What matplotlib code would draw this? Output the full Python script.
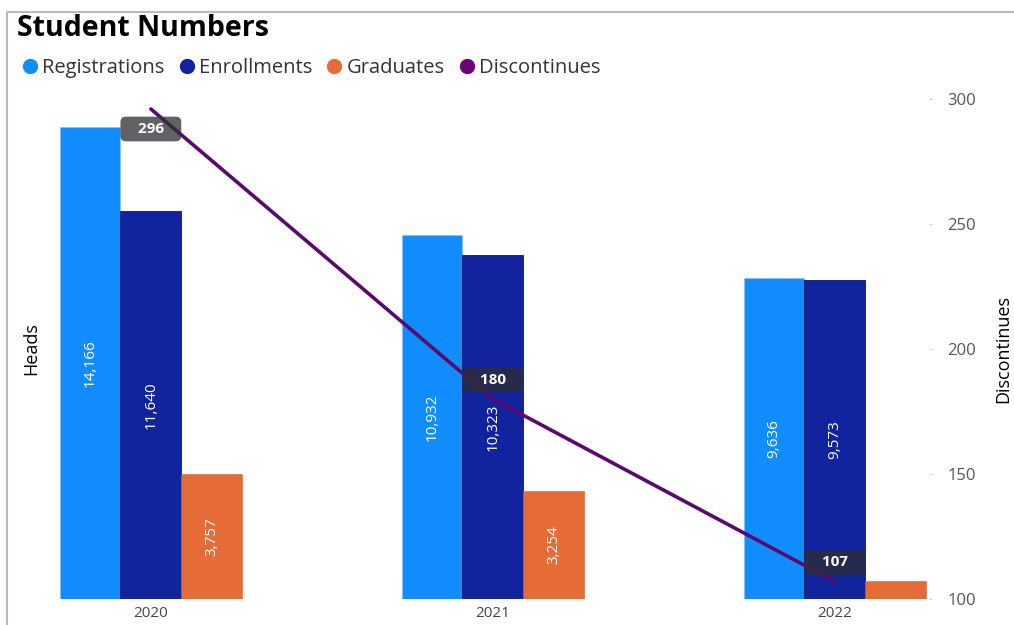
import matplotlib.pyplot as plt
import numpy as np
from matplotlib.lines import Line2D
from matplotlib.patches import Rectangle

years = ['2020', '2021', '2022']
registrations = [14166, 10932, 9636]
enrollments = [11640, 10323, 9573]
graduates = [3757, 3254, 540]
discontinues = [296, 180, 107]

c_reg = '#118DFF'
c_enr = '#12239E'
c_grad = '#E66C37'
c_disc = '#5A0A6E'

plt.rcParams['font.family'] = ['Open Sans', 'DejaVu Sans']

fig = plt.figure(figsize=(10.14, 6.25), dpi=100)
W, H = 1014, 625
ax = fig.add_axes([25 / W, 26 / H, (932 - 25) / W, (599 - 99) / H])
ax2 = ax.twinx()

x = np.arange(len(years))
w = 0.178

b1 = ax.bar(x - w, registrations, w, color=c_reg, edgecolor='#7fc1ff', linewidth=0.4)
b2 = ax.bar(x, enrollments, w, color=c_enr, edgecolor='#0b1670', linewidth=0.6)
b3 = ax.bar(x + w, graduates, w, color=c_grad, edgecolor='#d0602f', linewidth=0.4)

# labels inside bars (skip the tiny one)
for bars, vals in [(b1, registrations), (b2, enrollments), (b3, graduates)]:
    for rect, v in zip(bars, vals):
        if v < 1000:
            continue
        ax.text(rect.get_x() + rect.get_width() / 2, v / 2, f'{v:,}',
                rotation=90, ha='center', va='center', color='white', fontsize=11)

ax.set_ylim(0, 15000)
ax.set_xlim(-0.368, 2.284)
ax.set_yticks([])
ax.set_xticks(x)
ax.set_xticklabels(years, fontsize=11, color='#444444')
ax.tick_params(axis='x', length=0, pad=5)
ax.set_ylabel('Heads', fontsize=13)
ax.yaxis.set_label_coords(15 / 907, 0.5)
for s in ax.spines.values():
    s.set_visible(False)

ax2.plot(x, discontinues, color=c_disc, linewidth=2.6, solid_capstyle='round')
ax2.set_ylim(100, 300)
ax2.set_yticks([100, 150, 200, 250, 300])
ax2.tick_params(axis='y', length=2, color='#cccccc', direction='in', labelsize=12,
                labelcolor='#555555', pad=11)
ax2.set_ylabel('Discontinues', fontsize=13)
ax2.yaxis.set_label_coords(1 + 62 / 907, 0.5)
for s in ax2.spines.values():
    s.set_visible(False)

offsets = [-20, 19, 19]
for xi, v, off in zip(x, discontinues, offsets):
    ax2.annotate(f'   {v}   ', (xi, v), xytext=(0, off), textcoords='offset pixels',
                 ha='center', va='center', color='white', fontsize=11, fontweight='bold',
                 bbox=dict(boxstyle='round,pad=0.35,rounding_size=0.35', fc='#2e2e33',
                           ec='none', alpha=0.75))

fig.text(17 / W, 1 - 29 / H, 'Student Numbers', fontsize=20.5, fontweight='bold',
         va='center', ha='left')

handles = [Line2D([], [], marker='o', linestyle='none', markersize=10, color=c)
           for c in [c_reg, c_enr, c_grad, '#6B007B']]
fig.legend(handles, ['Registrations', 'Enrollments', 'Graduates', 'Discontinues'],
           loc='center left', bbox_to_anchor=(14 / W, 1 - 68 / H), ncol=4, frameon=False,
           fontsize=14.5, handlelength=0.8, handletextpad=0.2, columnspacing=0.7,
           borderaxespad=0, labelcolor='#333333')

fig.patches.append(Rectangle((7 / W, -0.1), 1.2, 1 - 12 / H + 0.1, transform=fig.transFigure,
                             fill=False, edgecolor='#bbbbbb', linewidth=1.5))

fig.savefig('out.png', dpi=100)
